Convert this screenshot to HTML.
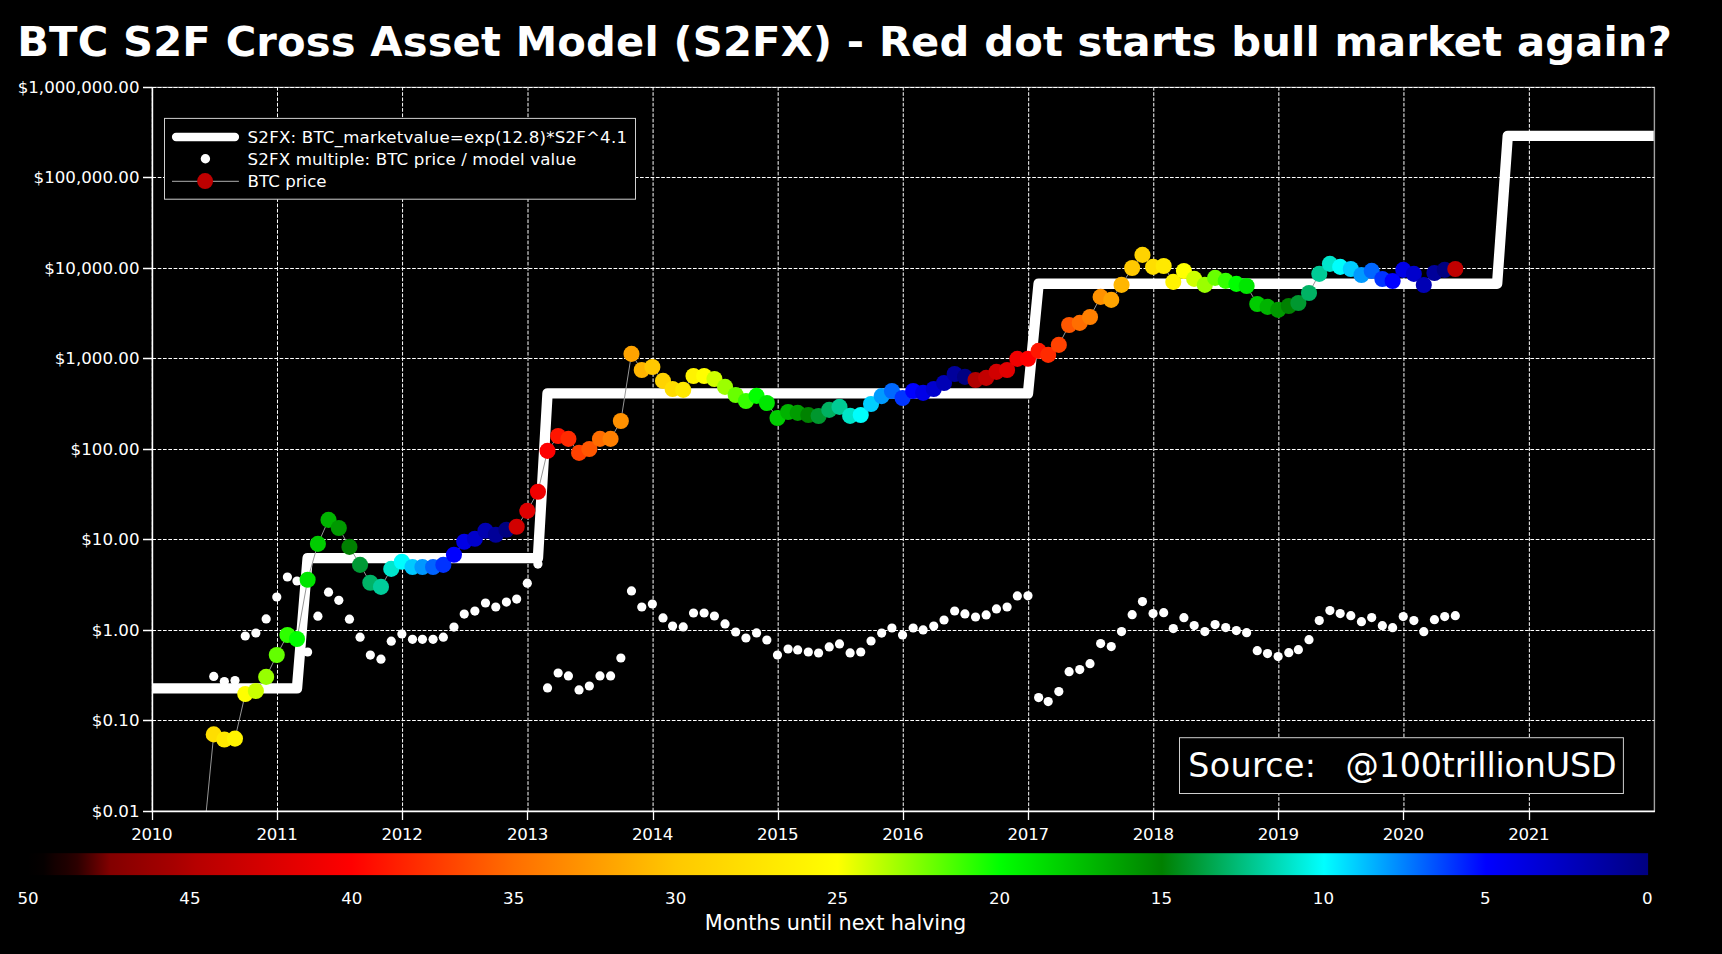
<!DOCTYPE html>
<html lang="en"><head><meta charset="utf-8"><title>BTC S2F Cross Asset Model (S2FX)</title>
<style>html,body{margin:0;padding:0;background:#000;}svg{display:block;}text{font-family:"DejaVu Sans","Liberation Sans",sans-serif;fill:#fff;}</style></head><body>
<svg width="1722" height="954" viewBox="0 0 1722 954">
<rect width="1722" height="954" fill="#000"/>
<defs>
<clipPath id="ax"><rect x="152.4" y="87.4" width="1502.0" height="724.0"/></clipPath>
<linearGradient id="cb" x1="0" y1="0" x2="1" y2="0"><stop offset="0.000" stop-color="#000000"/><stop offset="0.010" stop-color="#050000"/><stop offset="0.017" stop-color="#140000"/><stop offset="0.024" stop-color="#1e0000"/><stop offset="0.031" stop-color="#2d0000"/><stop offset="0.037" stop-color="#460000"/><stop offset="0.044" stop-color="#640000"/><stop offset="0.051" stop-color="#820000"/><stop offset="0.062" stop-color="#8d0000"/><stop offset="0.077" stop-color="#9b0000"/><stop offset="0.090" stop-color="#a60000"/><stop offset="0.104" stop-color="#b60000"/><stop offset="0.200" stop-color="#ff0000"/><stop offset="0.300" stop-color="#ff6e00"/><stop offset="0.400" stop-color="#ffc800"/><stop offset="0.500" stop-color="#ffff00"/><stop offset="0.600" stop-color="#00ff00"/><stop offset="0.700" stop-color="#008000"/><stop offset="0.800" stop-color="#00ffff"/><stop offset="0.900" stop-color="#0000ff"/><stop offset="1.000" stop-color="#000080"/></linearGradient>
</defs>
<text id="title" x="17.2" y="56" font-size="41.67px" font-weight="bold" textLength="1654.6" lengthAdjust="spacing">BTC S2F Cross Asset Model (S2FX) - Red dot starts bull market again?</text>
<path d="M152.4 87.4H1654.4V811.4" fill="none" stroke="#a2a2a2" stroke-width="1.4"/>
<path d="M152.4 87.50H1654.4M152.4 177.50H1654.4M152.4 268.50H1654.4M152.4 358.50H1654.4M152.4 449.50H1654.4M152.4 539.50H1654.4M152.4 630.50H1654.4M152.4 720.50H1654.4M152.4 811.50H1654.4M152.40 811.4V87.4M277.49 811.4V87.4M402.57 811.4V87.4M528.00 811.4V87.4M653.08 811.4V87.4M778.17 811.4V87.4M903.26 811.4V87.4M1028.68 811.4V87.4M1153.77 811.4V87.4M1278.85 811.4V87.4M1403.94 811.4V87.4M1529.37 811.4V87.4" fill="none" stroke="#fff" stroke-width="1" stroke-dasharray="3.7 1.6"/>
<g clip-path="url(#ax)">
<path d="M152.39 688.40 L162.32 688.40 L171.92 688.40 L182.54 688.40 L192.82 688.40 L203.45 688.40 L213.73 688.40 L224.35 688.40 L234.98 688.40 L245.26 688.40 L255.88 688.40 L266.16 688.40 L276.79 688.40 L287.41 688.40 L297.00 688.40 L307.63 558.10 L317.91 558.10 L328.53 558.10 L338.81 558.10 L349.44 558.10 L360.06 558.10 L370.34 558.10 L380.97 558.10 L391.25 558.10 L401.87 558.10 L412.49 558.10 L422.43 558.10 L433.06 558.10 L443.34 558.10 L453.96 558.10 L464.24 558.10 L474.87 558.10 L485.49 558.10 L495.77 558.10 L506.39 558.10 L516.68 558.10 L527.30 558.10 L537.92 558.10 L547.52 393.40 L558.14 393.40 L568.42 393.40 L579.05 393.40 L589.33 393.40 L599.95 393.40 L610.58 393.40 L620.86 393.40 L631.48 393.40 L641.76 393.40 L652.38 393.40 L663.01 393.40 L672.60 393.40 L683.23 393.40 L693.51 393.40 L704.13 393.40 L714.41 393.40 L725.04 393.40 L735.66 393.40 L745.94 393.40 L756.57 393.40 L766.85 393.40 L777.47 393.40 L788.09 393.40 L797.69 393.40 L808.31 393.40 L818.59 393.40 L829.22 393.40 L839.50 393.40 L850.12 393.40 L860.75 393.40 L871.03 393.40 L881.65 393.40 L891.93 393.40 L902.56 393.40 L913.18 393.40 L923.12 393.40 L933.74 393.40 L944.02 393.40 L954.65 393.40 L964.93 393.40 L975.55 393.40 L986.17 393.40 L996.46 393.40 L1007.08 393.40 L1017.36 393.40 L1027.98 393.40 L1038.61 283.70 L1048.20 283.70 L1058.83 283.70 L1069.11 283.70 L1079.73 283.70 L1090.01 283.70 L1100.64 283.70 L1111.26 283.70 L1121.54 283.70 L1132.16 283.70 L1142.45 283.70 L1153.07 283.70 L1163.69 283.70 L1173.29 283.70 L1183.91 283.70 L1194.19 283.70 L1204.82 283.70 L1215.10 283.70 L1225.72 283.70 L1236.35 283.70 L1246.63 283.70 L1257.25 283.70 L1267.53 283.70 L1278.15 283.70 L1288.78 283.70 L1298.37 283.70 L1309.00 283.70 L1319.28 283.70 L1329.90 283.70 L1340.18 283.70 L1350.81 283.70 L1361.43 283.70 L1371.71 283.70 L1382.34 283.70 L1392.62 283.70 L1403.24 283.70 L1413.86 283.70 L1423.80 283.70 L1434.43 283.70 L1444.71 283.70 L1455.33 283.70 L1465.61 283.70 L1476.24 283.70 L1486.86 283.70 L1497.14 283.70 L1507.76 135.90 L1518.04 135.90 L1528.67 135.90 L1539.29 135.90 L1548.89 135.90 L1559.51 135.90 L1569.79 135.90 L1580.42 135.90 L1590.70 135.90 L1601.32 135.90 L1611.94 135.90 L1622.23 135.90 L1632.85 135.90 L1643.13 135.90 L1653.75 135.90" fill="none" stroke="#fff" stroke-width="10.4" stroke-linejoin="round" stroke-linecap="butt"/>
<circle cx="213.73" cy="676.40" r="4.6" fill="#fff"/>
<circle cx="224.35" cy="681.50" r="4.6" fill="#fff"/>
<circle cx="234.98" cy="680.60" r="4.6" fill="#fff"/>
<circle cx="245.26" cy="636.00" r="4.6" fill="#fff"/>
<circle cx="255.88" cy="633.00" r="4.6" fill="#fff"/>
<circle cx="266.16" cy="618.90" r="4.6" fill="#fff"/>
<circle cx="276.79" cy="597.00" r="4.6" fill="#fff"/>
<circle cx="287.41" cy="577.00" r="4.6" fill="#fff"/>
<circle cx="297.00" cy="581.00" r="4.6" fill="#fff"/>
<circle cx="307.63" cy="652.00" r="4.6" fill="#fff"/>
<circle cx="317.91" cy="616.20" r="4.6" fill="#fff"/>
<circle cx="328.53" cy="592.20" r="4.6" fill="#fff"/>
<circle cx="338.81" cy="600.30" r="4.6" fill="#fff"/>
<circle cx="349.44" cy="619.20" r="4.6" fill="#fff"/>
<circle cx="360.06" cy="637.20" r="4.6" fill="#fff"/>
<circle cx="370.34" cy="655.10" r="4.6" fill="#fff"/>
<circle cx="380.97" cy="659.20" r="4.6" fill="#fff"/>
<circle cx="391.25" cy="641.20" r="4.6" fill="#fff"/>
<circle cx="401.87" cy="634.00" r="4.6" fill="#fff"/>
<circle cx="412.49" cy="639.30" r="4.6" fill="#fff"/>
<circle cx="422.43" cy="639.30" r="4.6" fill="#fff"/>
<circle cx="433.06" cy="639.30" r="4.6" fill="#fff"/>
<circle cx="443.34" cy="637.20" r="4.6" fill="#fff"/>
<circle cx="453.96" cy="627.10" r="4.6" fill="#fff"/>
<circle cx="464.24" cy="614.10" r="4.6" fill="#fff"/>
<circle cx="474.87" cy="611.10" r="4.6" fill="#fff"/>
<circle cx="485.49" cy="603.00" r="4.6" fill="#fff"/>
<circle cx="495.77" cy="607.00" r="4.6" fill="#fff"/>
<circle cx="506.39" cy="602.10" r="4.6" fill="#fff"/>
<circle cx="516.68" cy="599.10" r="4.6" fill="#fff"/>
<circle cx="527.30" cy="583.20" r="4.6" fill="#fff"/>
<circle cx="537.92" cy="564.10" r="4.6" fill="#fff"/>
<circle cx="547.52" cy="687.90" r="4.6" fill="#fff"/>
<circle cx="558.14" cy="673.00" r="4.6" fill="#fff"/>
<circle cx="568.42" cy="675.90" r="4.6" fill="#fff"/>
<circle cx="579.05" cy="689.90" r="4.6" fill="#fff"/>
<circle cx="589.33" cy="686.00" r="4.6" fill="#fff"/>
<circle cx="599.95" cy="675.90" r="4.6" fill="#fff"/>
<circle cx="610.58" cy="675.90" r="4.6" fill="#fff"/>
<circle cx="620.86" cy="658.00" r="4.6" fill="#fff"/>
<circle cx="631.48" cy="590.90" r="4.6" fill="#fff"/>
<circle cx="641.76" cy="607.00" r="4.6" fill="#fff"/>
<circle cx="652.38" cy="604.00" r="4.6" fill="#fff"/>
<circle cx="663.01" cy="617.90" r="4.6" fill="#fff"/>
<circle cx="672.60" cy="626.00" r="4.6" fill="#fff"/>
<circle cx="683.23" cy="626.90" r="4.6" fill="#fff"/>
<circle cx="693.51" cy="613.00" r="4.6" fill="#fff"/>
<circle cx="704.13" cy="613.00" r="4.6" fill="#fff"/>
<circle cx="714.41" cy="616.00" r="4.6" fill="#fff"/>
<circle cx="725.04" cy="623.90" r="4.6" fill="#fff"/>
<circle cx="735.66" cy="632.00" r="4.6" fill="#fff"/>
<circle cx="745.94" cy="638.00" r="4.6" fill="#fff"/>
<circle cx="756.57" cy="632.90" r="4.6" fill="#fff"/>
<circle cx="766.85" cy="640.00" r="4.6" fill="#fff"/>
<circle cx="777.47" cy="655.00" r="4.6" fill="#fff"/>
<circle cx="788.09" cy="649.00" r="4.6" fill="#fff"/>
<circle cx="797.69" cy="649.90" r="4.6" fill="#fff"/>
<circle cx="808.31" cy="652.00" r="4.6" fill="#fff"/>
<circle cx="818.59" cy="653.00" r="4.6" fill="#fff"/>
<circle cx="829.22" cy="646.90" r="4.6" fill="#fff"/>
<circle cx="839.50" cy="643.90" r="4.6" fill="#fff"/>
<circle cx="850.12" cy="652.90" r="4.6" fill="#fff"/>
<circle cx="860.75" cy="652.00" r="4.6" fill="#fff"/>
<circle cx="871.03" cy="641.00" r="4.6" fill="#fff"/>
<circle cx="881.65" cy="633.10" r="4.6" fill="#fff"/>
<circle cx="891.93" cy="628.00" r="4.6" fill="#fff"/>
<circle cx="902.56" cy="635.00" r="4.6" fill="#fff"/>
<circle cx="913.18" cy="628.00" r="4.6" fill="#fff"/>
<circle cx="923.12" cy="629.90" r="4.6" fill="#fff"/>
<circle cx="933.74" cy="626.00" r="4.6" fill="#fff"/>
<circle cx="944.02" cy="620.00" r="4.6" fill="#fff"/>
<circle cx="954.65" cy="611.00" r="4.6" fill="#fff"/>
<circle cx="964.93" cy="613.90" r="4.6" fill="#fff"/>
<circle cx="975.55" cy="617.00" r="4.6" fill="#fff"/>
<circle cx="986.17" cy="614.90" r="4.6" fill="#fff"/>
<circle cx="996.46" cy="608.90" r="4.6" fill="#fff"/>
<circle cx="1007.08" cy="607.00" r="4.6" fill="#fff"/>
<circle cx="1017.36" cy="595.90" r="4.6" fill="#fff"/>
<circle cx="1027.98" cy="595.80" r="4.6" fill="#fff"/>
<circle cx="1038.61" cy="697.60" r="4.6" fill="#fff"/>
<circle cx="1048.20" cy="701.60" r="4.6" fill="#fff"/>
<circle cx="1058.83" cy="691.60" r="4.6" fill="#fff"/>
<circle cx="1069.11" cy="671.70" r="4.6" fill="#fff"/>
<circle cx="1079.73" cy="669.60" r="4.6" fill="#fff"/>
<circle cx="1090.01" cy="663.70" r="4.6" fill="#fff"/>
<circle cx="1100.64" cy="643.60" r="4.6" fill="#fff"/>
<circle cx="1111.26" cy="646.60" r="4.6" fill="#fff"/>
<circle cx="1121.54" cy="631.60" r="4.6" fill="#fff"/>
<circle cx="1132.16" cy="614.70" r="4.6" fill="#fff"/>
<circle cx="1142.45" cy="601.60" r="4.6" fill="#fff"/>
<circle cx="1153.07" cy="613.60" r="4.6" fill="#fff"/>
<circle cx="1163.69" cy="612.70" r="4.6" fill="#fff"/>
<circle cx="1173.29" cy="628.60" r="4.6" fill="#fff"/>
<circle cx="1183.91" cy="617.70" r="4.6" fill="#fff"/>
<circle cx="1194.19" cy="625.60" r="4.6" fill="#fff"/>
<circle cx="1204.82" cy="631.60" r="4.6" fill="#fff"/>
<circle cx="1215.10" cy="624.60" r="4.6" fill="#fff"/>
<circle cx="1225.72" cy="627.60" r="4.6" fill="#fff"/>
<circle cx="1236.35" cy="630.60" r="4.6" fill="#fff"/>
<circle cx="1246.63" cy="632.70" r="4.6" fill="#fff"/>
<circle cx="1257.25" cy="650.70" r="4.6" fill="#fff"/>
<circle cx="1267.53" cy="653.60" r="4.6" fill="#fff"/>
<circle cx="1278.15" cy="656.60" r="4.6" fill="#fff"/>
<circle cx="1288.78" cy="652.70" r="4.6" fill="#fff"/>
<circle cx="1298.37" cy="649.70" r="4.6" fill="#fff"/>
<circle cx="1309.00" cy="639.70" r="4.6" fill="#fff"/>
<circle cx="1319.28" cy="620.60" r="4.6" fill="#fff"/>
<circle cx="1329.90" cy="610.60" r="4.6" fill="#fff"/>
<circle cx="1340.18" cy="613.60" r="4.6" fill="#fff"/>
<circle cx="1350.81" cy="615.70" r="4.6" fill="#fff"/>
<circle cx="1361.43" cy="621.70" r="4.6" fill="#fff"/>
<circle cx="1371.71" cy="617.60" r="4.6" fill="#fff"/>
<circle cx="1382.34" cy="625.70" r="4.6" fill="#fff"/>
<circle cx="1392.62" cy="627.70" r="4.6" fill="#fff"/>
<circle cx="1403.24" cy="616.60" r="4.6" fill="#fff"/>
<circle cx="1413.86" cy="620.60" r="4.6" fill="#fff"/>
<circle cx="1423.80" cy="631.70" r="4.6" fill="#fff"/>
<circle cx="1434.43" cy="619.70" r="4.6" fill="#fff"/>
<circle cx="1444.71" cy="616.60" r="4.6" fill="#fff"/>
<circle cx="1455.33" cy="615.70" r="4.6" fill="#fff"/>
<path d="M203.45 840.00 L213.73 734.40 L224.35 739.50 L234.98 738.60 L245.26 694.00 L255.88 691.00 L266.16 676.90 L276.79 655.00 L287.41 635.00 L297.00 639.00 L307.63 579.70 L317.91 543.90 L328.53 519.90 L338.81 528.00 L349.44 546.90 L360.06 564.90 L370.34 582.80 L380.97 586.90 L391.25 568.90 L401.87 561.70 L412.49 567.00 L422.43 567.00 L433.06 567.00 L443.34 564.90 L453.96 554.80 L464.24 541.80 L474.87 538.80 L485.49 530.70 L495.77 534.70 L506.39 529.80 L516.68 526.80 L527.30 510.90 L537.92 491.80 L547.52 450.90 L558.14 436.00 L568.42 438.90 L579.05 452.90 L589.33 449.00 L599.95 438.90 L610.58 438.90 L620.86 421.00 L631.48 353.90 L641.76 370.00 L652.38 367.00 L663.01 380.90 L672.60 389.00 L683.23 389.90 L693.51 376.00 L704.13 376.00 L714.41 379.00 L725.04 386.90 L735.66 395.00 L745.94 401.00 L756.57 395.90 L766.85 403.00 L777.47 418.00 L788.09 412.00 L797.69 412.90 L808.31 415.00 L818.59 416.00 L829.22 409.90 L839.50 406.90 L850.12 415.90 L860.75 415.00 L871.03 404.00 L881.65 396.10 L891.93 391.00 L902.56 398.00 L913.18 391.00 L923.12 392.90 L933.74 389.00 L944.02 383.00 L954.65 374.00 L964.93 376.90 L975.55 380.00 L986.17 377.90 L996.46 371.90 L1007.08 370.00 L1017.36 358.90 L1027.98 358.80 L1038.61 350.90 L1048.20 354.90 L1058.83 344.90 L1069.11 325.00 L1079.73 322.90 L1090.01 317.00 L1100.64 296.90 L1111.26 299.90 L1121.54 284.90 L1132.16 268.00 L1142.45 254.90 L1153.07 266.90 L1163.69 266.00 L1173.29 281.90 L1183.91 271.00 L1194.19 278.90 L1204.82 284.90 L1215.10 277.90 L1225.72 280.90 L1236.35 283.90 L1246.63 286.00 L1257.25 304.00 L1267.53 306.90 L1278.15 309.90 L1288.78 306.00 L1298.37 303.00 L1309.00 293.00 L1319.28 273.90 L1329.90 263.90 L1340.18 266.90 L1350.81 269.00 L1361.43 275.00 L1371.71 270.90 L1382.34 279.00 L1392.62 281.00 L1403.24 269.90 L1413.86 273.90 L1423.80 285.00 L1434.43 273.00 L1444.71 269.90 L1455.33 269.00" fill="none" stroke="#969696" stroke-width="1"/>
<circle cx="213.73" cy="734.40" r="8.05" fill="#ffde00"/>
<circle cx="224.35" cy="739.50" r="8.05" fill="#ffe900"/>
<circle cx="234.98" cy="738.60" r="8.05" fill="#fff400"/>
<circle cx="245.26" cy="694.00" r="8.05" fill="#feff00"/>
<circle cx="255.88" cy="691.00" r="8.05" fill="#caff00"/>
<circle cx="266.16" cy="676.90" r="8.05" fill="#97ff00"/>
<circle cx="276.79" cy="655.00" r="8.05" fill="#63ff00"/>
<circle cx="287.41" cy="635.00" r="8.05" fill="#2fff00"/>
<circle cx="297.00" cy="639.00" r="8.05" fill="#01ff00"/>
<circle cx="307.63" cy="579.70" r="8.05" fill="#00e500"/>
<circle cx="317.91" cy="543.90" r="8.05" fill="#00cc00"/>
<circle cx="328.53" cy="519.90" r="8.05" fill="#00b300"/>
<circle cx="338.81" cy="528.00" r="8.05" fill="#009900"/>
<circle cx="349.44" cy="546.90" r="8.05" fill="#008001"/>
<circle cx="360.06" cy="564.90" r="8.05" fill="#009a35"/>
<circle cx="370.34" cy="582.80" r="8.05" fill="#00b367"/>
<circle cx="380.97" cy="586.90" r="8.05" fill="#00cd9b"/>
<circle cx="391.25" cy="568.90" r="8.05" fill="#00e6cd"/>
<circle cx="401.87" cy="561.70" r="8.05" fill="#00fdff"/>
<circle cx="412.49" cy="567.00" r="8.05" fill="#00c9ff"/>
<circle cx="422.43" cy="567.00" r="8.05" fill="#0098ff"/>
<circle cx="433.06" cy="567.00" r="8.05" fill="#0064ff"/>
<circle cx="443.34" cy="564.90" r="8.05" fill="#0032ff"/>
<circle cx="453.96" cy="554.80" r="8.05" fill="#0000fe"/>
<circle cx="464.24" cy="541.80" r="8.05" fill="#0000e5"/>
<circle cx="474.87" cy="538.80" r="8.05" fill="#0000cb"/>
<circle cx="485.49" cy="530.70" r="8.05" fill="#0000b1"/>
<circle cx="495.77" cy="534.70" r="8.05" fill="#000098"/>
<circle cx="506.39" cy="529.80" r="8.05" fill="#000080"/>
<circle cx="516.68" cy="526.80" r="8.05" fill="#d10000"/>
<circle cx="527.30" cy="510.90" r="8.05" fill="#e00000"/>
<circle cx="537.92" cy="491.80" r="8.05" fill="#f00000"/>
<circle cx="547.52" cy="450.90" r="8.05" fill="#fe0000"/>
<circle cx="558.14" cy="436.00" r="8.05" fill="#ff1500"/>
<circle cx="568.42" cy="438.90" r="8.05" fill="#ff2a00"/>
<circle cx="579.05" cy="452.90" r="8.05" fill="#ff4100"/>
<circle cx="589.33" cy="449.00" r="8.05" fill="#ff5600"/>
<circle cx="599.95" cy="438.90" r="8.05" fill="#ff6d00"/>
<circle cx="610.58" cy="438.90" r="8.05" fill="#ff7f00"/>
<circle cx="620.86" cy="421.00" r="8.05" fill="#ff9100"/>
<circle cx="631.48" cy="353.90" r="8.05" fill="#ffa300"/>
<circle cx="641.76" cy="370.00" r="8.05" fill="#ffb500"/>
<circle cx="652.38" cy="367.00" r="8.05" fill="#ffc800"/>
<circle cx="663.01" cy="380.90" r="8.05" fill="#ffd300"/>
<circle cx="672.60" cy="389.00" r="8.05" fill="#ffdd00"/>
<circle cx="683.23" cy="389.90" r="8.05" fill="#ffe800"/>
<circle cx="693.51" cy="376.00" r="8.05" fill="#fff300"/>
<circle cx="704.13" cy="376.00" r="8.05" fill="#fffe00"/>
<circle cx="714.41" cy="379.00" r="8.05" fill="#d0ff00"/>
<circle cx="725.04" cy="386.90" r="8.05" fill="#9cff00"/>
<circle cx="735.66" cy="395.00" r="8.05" fill="#68ff00"/>
<circle cx="745.94" cy="401.00" r="8.05" fill="#36ff00"/>
<circle cx="756.57" cy="395.90" r="8.05" fill="#02ff00"/>
<circle cx="766.85" cy="403.00" r="8.05" fill="#00e700"/>
<circle cx="777.47" cy="418.00" r="8.05" fill="#00cd00"/>
<circle cx="788.09" cy="412.00" r="8.05" fill="#00b300"/>
<circle cx="797.69" cy="412.90" r="8.05" fill="#009c00"/>
<circle cx="808.31" cy="415.00" r="8.05" fill="#008200"/>
<circle cx="818.59" cy="416.00" r="8.05" fill="#00972e"/>
<circle cx="829.22" cy="409.90" r="8.05" fill="#00b162"/>
<circle cx="839.50" cy="406.90" r="8.05" fill="#00ca95"/>
<circle cx="850.12" cy="415.90" r="8.05" fill="#00e4c8"/>
<circle cx="860.75" cy="415.00" r="8.05" fill="#00fefc"/>
<circle cx="871.03" cy="404.00" r="8.05" fill="#00cfff"/>
<circle cx="881.65" cy="396.10" r="8.05" fill="#009bff"/>
<circle cx="891.93" cy="391.00" r="8.05" fill="#0069ff"/>
<circle cx="902.56" cy="398.00" r="8.05" fill="#0035ff"/>
<circle cx="913.18" cy="391.00" r="8.05" fill="#0001ff"/>
<circle cx="923.12" cy="392.90" r="8.05" fill="#0000e7"/>
<circle cx="933.74" cy="389.00" r="8.05" fill="#0000ce"/>
<circle cx="944.02" cy="383.00" r="8.05" fill="#0000b5"/>
<circle cx="954.65" cy="374.00" r="8.05" fill="#00009b"/>
<circle cx="964.93" cy="376.90" r="8.05" fill="#000082"/>
<circle cx="975.55" cy="380.00" r="8.05" fill="#b10000"/>
<circle cx="986.17" cy="377.90" r="8.05" fill="#c20000"/>
<circle cx="996.46" cy="371.90" r="8.05" fill="#d10000"/>
<circle cx="1007.08" cy="370.00" r="8.05" fill="#e10000"/>
<circle cx="1017.36" cy="358.90" r="8.05" fill="#f00000"/>
<circle cx="1027.98" cy="358.80" r="8.05" fill="#ff0000"/>
<circle cx="1038.61" cy="350.90" r="8.05" fill="#ff1700"/>
<circle cx="1048.20" cy="354.90" r="8.05" fill="#ff2b00"/>
<circle cx="1058.83" cy="344.90" r="8.05" fill="#ff4200"/>
<circle cx="1069.11" cy="325.00" r="8.05" fill="#ff5700"/>
<circle cx="1079.73" cy="322.90" r="8.05" fill="#ff6e00"/>
<circle cx="1090.01" cy="317.00" r="8.05" fill="#ff7f00"/>
<circle cx="1100.64" cy="296.90" r="8.05" fill="#ff9200"/>
<circle cx="1111.26" cy="299.90" r="8.05" fill="#ffa400"/>
<circle cx="1121.54" cy="284.90" r="8.05" fill="#ffb600"/>
<circle cx="1132.16" cy="268.00" r="8.05" fill="#ffc800"/>
<circle cx="1142.45" cy="254.90" r="8.05" fill="#ffd300"/>
<circle cx="1153.07" cy="266.90" r="8.05" fill="#ffde00"/>
<circle cx="1163.69" cy="266.00" r="8.05" fill="#ffe900"/>
<circle cx="1173.29" cy="281.90" r="8.05" fill="#fff300"/>
<circle cx="1183.91" cy="271.00" r="8.05" fill="#ffff00"/>
<circle cx="1194.19" cy="278.90" r="8.05" fill="#ceff00"/>
<circle cx="1204.82" cy="284.90" r="8.05" fill="#9aff00"/>
<circle cx="1215.10" cy="277.90" r="8.05" fill="#68ff00"/>
<circle cx="1225.72" cy="280.90" r="8.05" fill="#34ff00"/>
<circle cx="1236.35" cy="283.90" r="8.05" fill="#00ff00"/>
<circle cx="1246.63" cy="286.00" r="8.05" fill="#00e600"/>
<circle cx="1257.25" cy="304.00" r="8.05" fill="#00cc00"/>
<circle cx="1267.53" cy="306.90" r="8.05" fill="#00b300"/>
<circle cx="1278.15" cy="309.90" r="8.05" fill="#009900"/>
<circle cx="1288.78" cy="306.00" r="8.05" fill="#008101"/>
<circle cx="1298.37" cy="303.00" r="8.05" fill="#009830"/>
<circle cx="1309.00" cy="293.00" r="8.05" fill="#00b264"/>
<circle cx="1319.28" cy="273.90" r="8.05" fill="#00cb96"/>
<circle cx="1329.90" cy="263.90" r="8.05" fill="#00e5ca"/>
<circle cx="1340.18" cy="266.90" r="8.05" fill="#00fefc"/>
<circle cx="1350.81" cy="269.00" r="8.05" fill="#00ceff"/>
<circle cx="1361.43" cy="275.00" r="8.05" fill="#009aff"/>
<circle cx="1371.71" cy="270.90" r="8.05" fill="#0067ff"/>
<circle cx="1382.34" cy="279.00" r="8.05" fill="#0033ff"/>
<circle cx="1392.62" cy="281.00" r="8.05" fill="#0001ff"/>
<circle cx="1403.24" cy="269.90" r="8.05" fill="#0000e6"/>
<circle cx="1413.86" cy="273.90" r="8.05" fill="#0000cc"/>
<circle cx="1423.80" cy="285.00" r="8.05" fill="#0000b4"/>
<circle cx="1434.43" cy="273.00" r="8.05" fill="#00009a"/>
<circle cx="1444.71" cy="269.90" r="8.05" fill="#000081"/>
<circle cx="1455.33" cy="269.00" r="8.05" fill="#c00000"/>
</g>
<path d="M152.4 86.9V811.4H1654.9" fill="none" stroke="#fff" stroke-width="1.6"/>
<path d="M152.4 87.50h-9.4M152.4 177.50h-9.4M152.4 268.50h-9.4M152.4 358.50h-9.4M152.4 449.50h-9.4M152.4 539.50h-9.4M152.4 630.50h-9.4M152.4 720.50h-9.4M152.4 811.50h-9.4M152.50 811.4v8.6M277.50 811.4v8.6M402.50 811.4v8.6M527.50 811.4v8.6M653.50 811.4v8.6M778.50 811.4v8.6M903.50 811.4v8.6M1028.50 811.4v8.6M1153.50 811.4v8.6M1278.50 811.4v8.6M1403.50 811.4v8.6M1529.50 811.4v8.6" fill="none" stroke="#fff" stroke-width="1.3"/>
<text x="139.5" y="93.0" font-size="16.67px" text-anchor="end">$1,000,000.00</text>
<text x="139.5" y="183.0" font-size="16.67px" text-anchor="end">$100,000.00</text>
<text x="139.5" y="274.0" font-size="16.67px" text-anchor="end">$10,000.00</text>
<text x="139.5" y="364.0" font-size="16.67px" text-anchor="end">$1,000.00</text>
<text x="139.5" y="455.0" font-size="16.67px" text-anchor="end">$100.00</text>
<text x="139.5" y="545.0" font-size="16.67px" text-anchor="end">$10.00</text>
<text x="139.5" y="636.0" font-size="16.67px" text-anchor="end">$1.00</text>
<text x="139.5" y="726.0" font-size="16.67px" text-anchor="end">$0.10</text>
<text x="139.5" y="817.0" font-size="16.67px" text-anchor="end">$0.01</text>
<text x="152.0" y="839.9" font-size="16.67px" text-anchor="middle" textLength="41.4" lengthAdjust="spacing">2010</text>
<text x="277.1" y="839.9" font-size="16.67px" text-anchor="middle" textLength="41.4" lengthAdjust="spacing">2011</text>
<text x="402.2" y="839.9" font-size="16.67px" text-anchor="middle" textLength="41.4" lengthAdjust="spacing">2012</text>
<text x="527.6" y="839.9" font-size="16.67px" text-anchor="middle" textLength="41.4" lengthAdjust="spacing">2013</text>
<text x="652.7" y="839.9" font-size="16.67px" text-anchor="middle" textLength="41.4" lengthAdjust="spacing">2014</text>
<text x="777.8" y="839.9" font-size="16.67px" text-anchor="middle" textLength="41.4" lengthAdjust="spacing">2015</text>
<text x="902.9" y="839.9" font-size="16.67px" text-anchor="middle" textLength="41.4" lengthAdjust="spacing">2016</text>
<text x="1028.3" y="839.9" font-size="16.67px" text-anchor="middle" textLength="41.4" lengthAdjust="spacing">2017</text>
<text x="1153.4" y="839.9" font-size="16.67px" text-anchor="middle" textLength="41.4" lengthAdjust="spacing">2018</text>
<text x="1278.5" y="839.9" font-size="16.67px" text-anchor="middle" textLength="41.4" lengthAdjust="spacing">2019</text>
<text x="1403.5" y="839.9" font-size="16.67px" text-anchor="middle" textLength="41.4" lengthAdjust="spacing">2020</text>
<text x="1529.0" y="839.9" font-size="16.67px" text-anchor="middle" textLength="41.4" lengthAdjust="spacing">2021</text>
<rect x="164.5" y="118.4" width="471" height="80.8" fill="#000" stroke="#cfcfcf" stroke-width="1"/>
<path d="M176.05 137H234.95" stroke="#fff" stroke-width="8.3" stroke-linecap="round" fill="none"/>
<circle cx="205.4" cy="158.7" r="4.7" fill="#fff"/>
<path d="M172 181.3H238.9" stroke="#b0b0b0" stroke-width="1" fill="none"/>
<circle cx="205.1" cy="181.1" r="8" fill="#be0000"/>
<text x="247.6" y="143.1" font-size="16.67px" textLength="379.4" lengthAdjust="spacing">S2FX: BTC_marketvalue=exp(12.8)*S2F^4.1</text>
<text x="247.6" y="165" font-size="16.67px" textLength="328.6" lengthAdjust="spacing">S2FX multiple: BTC price / model value</text>
<text x="247.6" y="186.9" font-size="16.67px">BTC price</text>
<rect x="1179.5" y="737.7" width="443.9" height="55.8" fill="#000" stroke="#cfcfcf" stroke-width="1"/>
<text x="1188.2" y="777" font-size="33.3px" textLength="127.8" lengthAdjust="spacing">Source:</text>
<text x="1345.6" y="777" font-size="33.3px" textLength="271" lengthAdjust="spacing">@100trillionUSD</text>
<rect x="27.5" y="853.2" width="1620.6" height="21.9" fill="url(#cb)"/>
<text x="1647.2" y="903.7" font-size="16.67px" text-anchor="middle">0</text>
<text x="1485.3" y="903.7" font-size="16.67px" text-anchor="middle">5</text>
<text x="1323.4" y="903.7" font-size="16.67px" text-anchor="middle">10</text>
<text x="1161.4" y="903.7" font-size="16.67px" text-anchor="middle">15</text>
<text x="999.5" y="903.7" font-size="16.67px" text-anchor="middle">20</text>
<text x="837.6" y="903.7" font-size="16.67px" text-anchor="middle">25</text>
<text x="675.7" y="903.7" font-size="16.67px" text-anchor="middle">30</text>
<text x="513.7" y="903.7" font-size="16.67px" text-anchor="middle">35</text>
<text x="351.8" y="903.7" font-size="16.67px" text-anchor="middle">40</text>
<text x="189.9" y="903.7" font-size="16.67px" text-anchor="middle">45</text>
<text x="28.0" y="903.7" font-size="16.67px" text-anchor="middle">50</text>
<text x="835.5" y="929.8" font-size="20.83px" text-anchor="middle" textLength="261.4" lengthAdjust="spacing">Months until next halving</text>
</svg></body></html>
